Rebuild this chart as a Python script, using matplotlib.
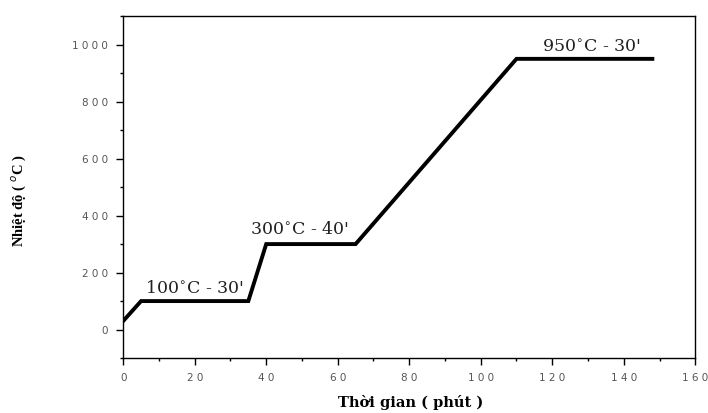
import matplotlib
matplotlib.use("Agg")
import matplotlib.pyplot as plt
from matplotlib.ticker import MultipleLocator, FuncFormatter

time_min = [0, 5, 35, 40, 65, 110, 148]
temp_c = [30, 100, 100, 300, 300, 950, 950]
labels = ["100$^{\\circ}$C - 30'", "300$^{\\circ}$C - 40'", "950$^{\\circ}$C - 30'"]
label_x = [20.0, 49.2, 131.0]
label_y = [130, 337, 975]

fig = plt.figure(figsize=(7.08, 4.13), dpi=100)
ax = fig.add_axes([0.174, 0.133, 0.808, 0.828])
ax.plot(time_min, temp_c, color="black", lw=2.8, solid_joinstyle="miter")
for t, x, y in zip(labels, label_x, label_y):
    ax.text(x, y, t, ha="center", va="baseline", fontsize=12.5, family="DejaVu Serif",
            color="#222222")

ax.set_xlim(0, 160)
ax.set_ylim(-100, 1100)
ax.xaxis.set_major_locator(MultipleLocator(20))
ax.xaxis.set_minor_locator(MultipleLocator(10))
ax.yaxis.set_major_locator(MultipleLocator(200))
ax.yaxis.set_minor_locator(MultipleLocator(100))
ax.set_yticks(range(0, 1001, 200))
spaced = FuncFormatter(lambda v, p: " ".join(str(int(round(v)))))
ax.xaxis.set_major_formatter(spaced)
ax.yaxis.set_major_formatter(spaced)
ax.tick_params(which="major", direction="out", length=5, width=1, labelsize=7.5,
               colors="black", labelcolor="#555555", pad=6)
ax.tick_params(which="minor", direction="out", length=2.5, width=1)
for lab in ax.get_xticklabels() + ax.get_yticklabels():
    lab.set_family("DejaVu Sans")
for s in ax.spines.values():
    s.set_linewidth(1)
ax.set_xlabel("Thời gian ( phút )", family="DejaVu Serif", fontweight="bold", fontsize=10.5)
ax.set_ylabel("Nhiệt độ ( $^{o}$C )", family="Liberation Serif", fontweight="bold", fontsize=10.5)
ax.xaxis.set_label_coords(0.502, -0.108)
ax.yaxis.set_label_coords(-0.166, 0.459)
fig.savefig("out.png", dpi=100)
